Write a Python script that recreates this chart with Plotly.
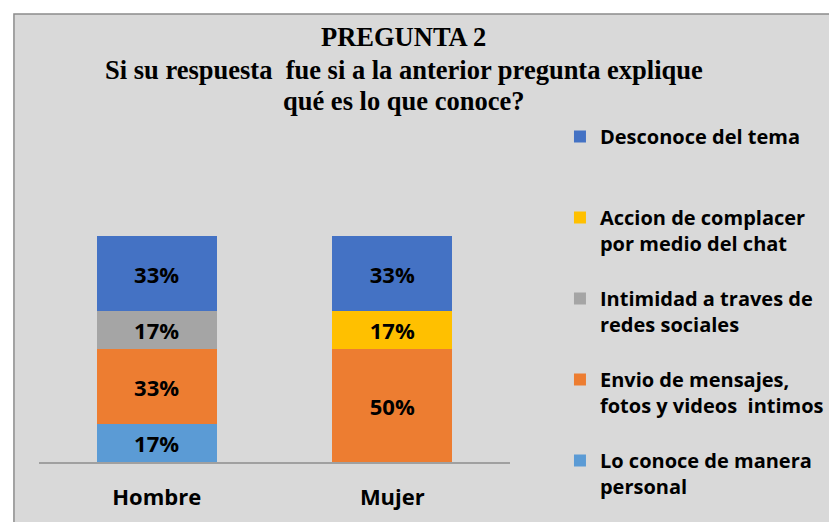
import plotly.graph_objects as go

categories = ["Hombre", "Mujer"]
series_names = [
    "Lo conoce de manera<br>personal",
    "Envio de mensajes,<br>fotos y videos  intimos",
    "Intimidad a traves de<br>redes sociales",
    "Accion de complacer<br>por medio del chat",
    "Desconoce del tema<br> ",
]
lo_conoce = [0.1667, 0.0]
envio = [0.3333, 0.5]
intimidad = [0.1667, 0.0]
accion = [0.0, 0.1667]
desconoce = [0.3333, 0.3333]
series_values = [lo_conoce, envio, intimidad, accion, desconoce]
colors = ["#5B9BD5", "#ED7D31", "#A5A5A5", "#FFC000", "#4472C4"]
title_lines = [
    "PREGUNTA 2",
    "Si su respuesta  fue si a la anterior pregunta explique",
    "qué es lo que conoce?",
]

W, H = 829, 522
OFF = 0  # body margin removed via post_script
font_main = "Open Sans"


def px(x):
    return (x - OFF) / W


def py(y):
    return 1 - (y - OFF) / H


fig = go.Figure()
for i, (name, vals, col) in enumerate(zip(series_names, series_values, colors)):
    fig.add_trace(go.Bar(
        x=categories, y=vals, name=name, legendgroup=name, legendrank=100 - i,
        marker=dict(color=col, line=dict(width=0)),
        text=[f"{v:.0%}" if v > 0 else "" for v in vals],
        textposition="inside", insidetextanchor="middle", textangle=0,
        textfont=dict(family=font_main, size=22, color="black", weight="bold"),
        width=0.51,
    ))

fig.add_shape(type="rect", xref="paper", yref="paper",
              x0=px(14), x1=px(850), y0=py(550), y1=py(14),
              fillcolor="#D9D9D9", line=dict(color="#8C8C8C", width=1.5), layer="below")

for line, yc in zip(title_lines, [37, 70, 101]):
    fig.add_annotation(
        text=line, xref="paper", yref="paper", x=px(405), y=py(yc),
        xanchor="center", yanchor="middle", showarrow=False,
        font=dict(family="Liberation Serif", size=26.5, color="black", weight="bold"),
    )

fig.update_layout(
    width=W, height=H,
    margin=dict(l=0, r=0, t=0, b=0),
    paper_bgcolor="white", plot_bgcolor="rgba(0,0,0,0)",
    barmode="stack", bargap=0.49,
    xaxis=dict(domain=[px(39), px(512)], showline=True, linecolor="#A0A0A0", linewidth=1.5,
               ticks="", tickfont=dict(family=font_main, size=22, color="black", weight="bold"),
               ticklabelstandoff=15, fixedrange=True),
    yaxis=dict(domain=[py(462), py(123)], range=[0, 1.5], visible=False,
               showgrid=False, zeroline=False),
    legend=dict(x=px(581 - 19), xanchor="left", y=py(136 - 19), yanchor="top",
                traceorder="grouped", tracegroupgap=26, valign="top",
                bgcolor="rgba(0,0,0,0)",
                font=dict(family=font_main, size=20, color="black", weight="bold")),
    showlegend=True,
)

fig.write_html("out.html", config={"displayModeBar": False},
               post_script="document.body.style.margin='0';")
